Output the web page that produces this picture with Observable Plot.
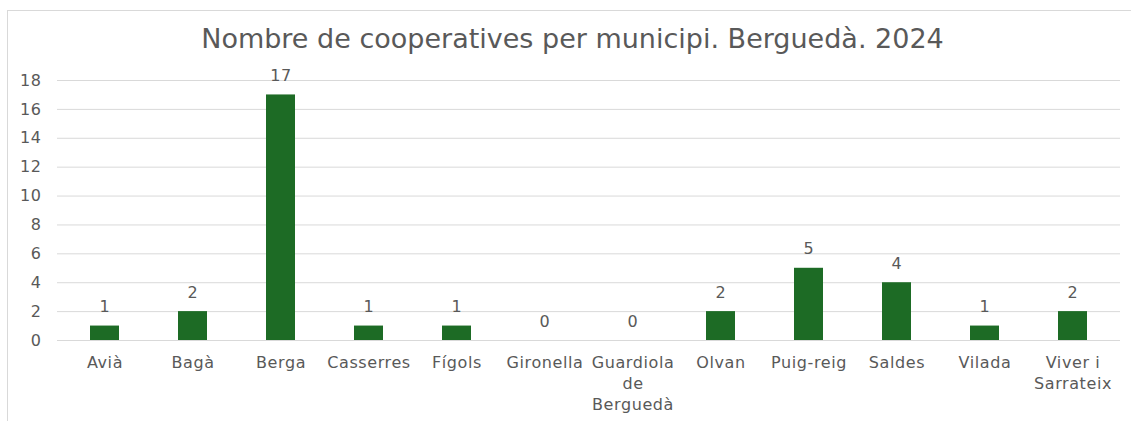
<!DOCTYPE html>
<html>
<head>
<meta charset="utf-8">
<script src="https://cdn.jsdelivr.net/npm/d3@7"></script>
<script src="https://cdn.jsdelivr.net/npm/@observablehq/plot@0.6"></script>
<style>
  html, body { margin: 0; padding: 0; background: #fff; overflow: hidden; }
  #wrap { position: relative; width: 1131px; height: 421px; overflow: hidden; font-family: "DejaVu Sans", Verdana, sans-serif; }
  #frame { position: absolute; left: 7px; top: 10px; width: 1140px; height: 430px; border: 1px solid #d9d9d9; box-sizing: border-box; }
  #title { position: absolute; left: 0; width: 1145px; top: 24px; text-align: center; font-size: 27px; line-height: 30px; color: #595959; }
  #chart { position: absolute; left: 0; top: 0; }
  #chart svg text { letter-spacing: 0.6px; }
</style>
</head>
<body>
<div id="wrap">
  <div id="frame"></div>
  <div id="title">Nombre de cooperatives per municipi. Berguedà. 2024</div>
  <div id="chart"></div>
</div>
<script>
const municipis = ["Avià", "Bagà", "Berga", "Casserres", "Fígols", "Gironella", "Guardiola de Berguedà", "Olvan", "Puig-reig", "Saldes", "Vilada", "Viver i Sarrateix"];
const cooperatives = [1, 2, 17, 1, 1, 0, 0, 2, 5, 4, 1, 2];
const etiquetes = ["Avià", "Bagà", "Berga", "Casserres", "Fígols", "Gironella", "Guardiola\nde\nBerguedà", "Olvan", "Puig-reig", "Saldes", "Vilada", "Viver i\nSarrateix"];
const yTicks = [0, 2, 4, 6, 8, 10, 12, 14, 16, 18];

const data = municipis.map((m, i) => ({municipi: m, valor: cooperatives[i]}));
const labelOf = new Map(municipis.map((m, i) => [m, etiquetes[i]]));

const chart = Plot.plot({
  width: 1131,
  height: 421,
  marginLeft: 57,
  marginRight: 11,
  marginTop: 80,
  marginBottom: 81,
  style: {fontFamily: '"DejaVu Sans", Verdana, sans-serif', fontSize: "16px", color: "#595959", background: "transparent"},
  x: {domain: municipis, paddingInner: 0.67, paddingOuter: 0.335, label: null},
  y: {domain: [0, 18], label: null},
  marks: [
    Plot.gridY(yTicks, {stroke: "#d9d9d9", strokeOpacity: 1, strokeWidth: 1}),
    Plot.barY(data, {x: "municipi", y: "valor", fill: "#1d6b25"}),
    Plot.text(data, {x: "municipi", y: "valor", text: d => String(d.valor), dy: -19, fill: "#595959", fontSize: 16}),
    Plot.axisY(yTicks, {tickSize: 0, tickPadding: 16, fontSize: 16, fill: "#595959", label: null}),
    Plot.axisX({tickSize: 0, tickPadding: 13, fontSize: 16, fill: "#595959", lineHeight: 1.3, tickFormat: d => labelOf.get(d), label: null})
  ]
});
document.getElementById("chart").appendChild(chart);
</script>
</body>
</html>
